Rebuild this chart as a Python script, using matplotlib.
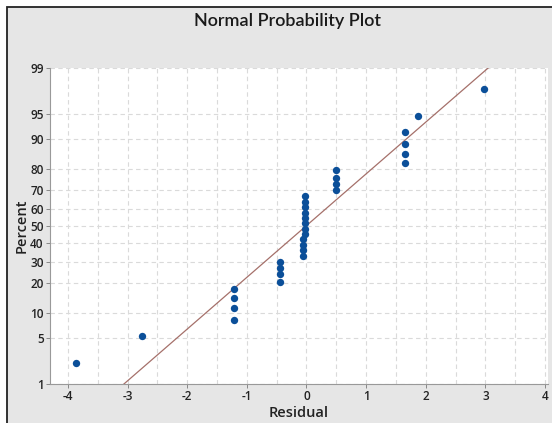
import numpy as np
import matplotlib
matplotlib.use("Agg")
import matplotlib.pyplot as plt
from matplotlib.patches import Rectangle
from statistics import NormalDist

# Residual values
residuals = [-3.87, -2.76,
             -1.21, -1.21, -1.21, -1.21,
             -0.44, -0.44, -0.44, -0.44,
             -0.06, -0.06, -0.06, -0.06,
             -0.02, -0.02, -0.02, -0.02, -0.02, -0.02, -0.02, -0.02,
             0.49, 0.49, 0.49, 0.49,
             1.65, 1.65, 1.65, 1.65,
             1.87, 2.97]
y_ticks = [1, 5, 10, 20, 30, 40, 50, 60, 70, 80, 90, 95, 99]
x_ticks = [-4, -3, -2, -1, 0, 1, 2, 3, 4]

ND = NormalDist()
_ppf = np.vectorize(lambda p: ND.inv_cdf(min(max(p / 100.0, 1e-9), 1 - 1e-9)), otypes=[float])
_cdf = np.vectorize(lambda z: ND.cdf(z) * 100.0, otypes=[float])

def fwd(p):
    return _ppf(np.asarray(p, dtype=float))

def inv(z):
    return _cdf(np.asarray(z, dtype=float))

x = np.sort(np.array(residuals))
n = len(x)
ranks = np.arange(1, n + 1)
pct = (ranks - 0.3) / (n + 0.4) * 100

mu = x.mean()
sd = x.std(ddof=1)

W, H = 552, 423
fig = plt.figure(figsize=(W / 100, H / 100), dpi=100)
fig.patch.set_facecolor('white')
fig.patches.append(Rectangle((7 / W, -0.01), 1, 1.01 - 7 / H, transform=fig.transFigure,
                             facecolor='#e6e6e6', edgecolor='#222222', linewidth=1.3, zorder=-5))

ax = fig.add_axes([50 / W, 1 - 384 / H, (548 - 50) / W, (384 - 68) / H], zorder=2)
ax.set_facecolor('white')
ax.set_yscale('function', functions=(fwd, inv))
ax.set_ylim(1, 99)
ax.set_xlim(-4.30, 4.05)

# fitted line
zl = np.array([fwd(1.0), fwd(99.0)])
xl = mu + sd * zl
ax.plot(xl, [1.0, 99.0], color='#a5706a', linewidth=0.9, zorder=2)

ax.scatter(x, pct, s=28, color='#0b4f99', zorder=3, linewidths=0)

ax.set_yticks(y_ticks)
ax.set_yticklabels([str(t) for t in y_ticks])
ax.set_xticks(x_ticks)
ax.set_xticklabels([str(t) for t in x_ticks])
ax.yaxis.set_minor_locator(matplotlib.ticker.NullLocator())
ax.xaxis.set_minor_locator(matplotlib.ticker.FixedLocator(np.arange(-3.5, 4.0, 1.0)))

ax.grid(True, which='major', axis='both', color='#dadada', linestyle=(0, (4, 3)), linewidth=0.8)
ax.grid(True, which='minor', axis='x', color='#dadada', linestyle=(0, (4, 3)), linewidth=0.8)
ax.set_axisbelow(True)

for s in ['top', 'right']:
    ax.spines[s].set_visible(False)
for s in ['left', 'bottom']:
    ax.spines[s].set_color('#999999')
    ax.spines[s].set_linewidth(0.8)

ax.tick_params(axis='both', which='major', length=3, width=0.7, color='#888888',
               labelsize=8.5, labelcolor='#222222', pad=1.5)
ax.tick_params(axis='x', which='minor', length=0)
for lab in ax.get_xticklabels() + ax.get_yticklabels():
    lab.set_fontfamily('Open Sans')
    lab.set_fontweight('semibold')

ax.set_xlabel('Residual', fontsize=10.5, family='Open Sans', fontweight='semibold',
              color='#222222', labelpad=2)
ax.set_ylabel('Percent', fontsize=10.5, family='Open Sans', fontweight='semibold',
              color='#222222', labelpad=1)

fig.text(288 / W, 1 - 21 / H, 'Normal Probability Plot', ha='center', va='center',
         fontsize=13, family='Lato', fontweight='semibold', color='#1a1a1a')

fig.savefig('out.png', dpi=100)
